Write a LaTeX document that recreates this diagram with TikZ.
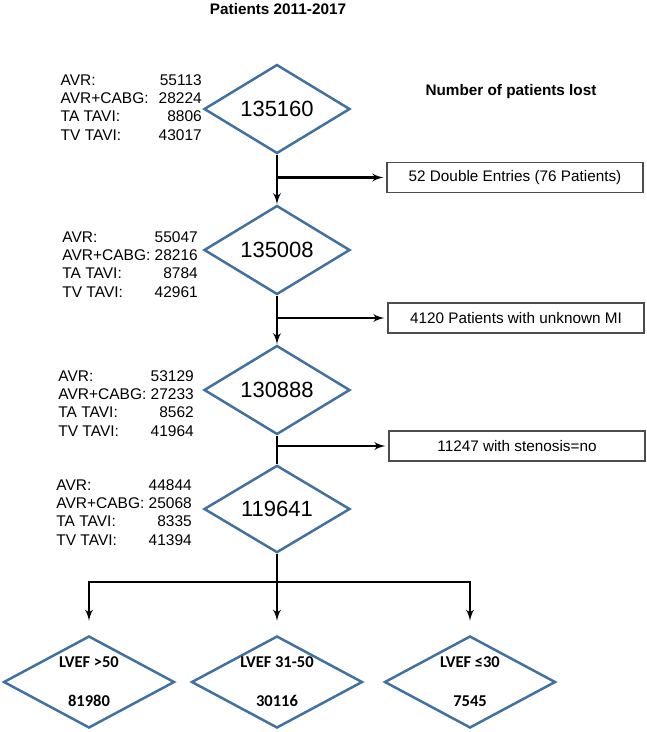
\documentclass[tikz,border=0pt]{standalone}
\usepackage{fontspec}
\setmainfont{Liberation Sans}
\newfontfamily\lvef{Carlito}
\usetikzlibrary{shapes,arrows}
\definecolor{diablue}{RGB}{66,112,160}

\begin{document}
\begin{tikzpicture}[x=1pt, y=-1pt, auto, node distance=141pt, >=latex']
    \tikzstyle{decision} = [draw=diablue, diamond, line width=2.5pt,
    inner sep=0pt, minimum width=146pt, minimum height=86pt,
    font=\fontsize{22}{26}\selectfont]
    \tikzstyle{group} = [draw=diablue, diamond, line width=2.5pt,
    inner sep=0pt, aspect=1.85, minimum width=171pt, minimum height=92pt,
    align=center, font=\lvef\bfseries\fontsize{16.5}{19}\selectfont]
    \tikzstyle{lost} = [draw=black!70, rectangle, line width=1.2pt,
    minimum width=256pt, minimum height=30pt, font=\fontsize{15.3}{18}\selectfont]
    \tikzstyle{counts} = [anchor=east, inner sep=0pt, font=\fontsize{15.5}{18.3}\selectfont]
    \tikzstyle{heading} = [font=\bfseries\fontsize{15.3}{18}\selectfont]
    \tikzstyle{line} = [draw, line width=2.8pt]

    \useasboundingbox (0,0) rectangle (647,732);
    \node [heading] (title) at (278,9) {Patients 2011-2017};
    \node [heading] (losthead) at (511,92) {Number of patients lost};

    \node [decision] (d1) at (277,109) {135160};
    \node [decision, below of=d1] (d2) {135008};
    \node [decision, below of=d2, node distance=140pt] (d3) {130888};
    \node [decision, below of=d3, node distance=119pt] (d4) {119641};

    \node [counts] (s1) at (202,109) {\begin{tabular}{@{}l@{\hspace{10pt}}r@{}}
      AVR: & 55113\\ AVR+CABG: & 28224\\ TA TAVI: & 8806\\ TV TAVI: & 43017\end{tabular}};
    \node [counts] (s2) at (198,266) {\begin{tabular}{@{}l@{\ }r@{}}
      AVR: & 55047\\ AVR+CABG: & 28216\\ TA TAVI: & 8784\\ TV TAVI: & 42961\end{tabular}};
    \node [counts] (s3) at (194,405) {\begin{tabular}{@{}l@{\ }r@{}}
      AVR: & 53129\\ AVR+CABG: & 27233\\ TA TAVI: & 8562\\ TV TAVI: & 41964\end{tabular}};
    \node [counts] (s4) at (192,514) {\begin{tabular}{@{}l@{\ }r@{}}
      AVR: & 44844\\ AVR+CABG: & 25068\\ TA TAVI: & 8335\\ TV TAVI: & 41394\end{tabular}};

    \node [lost] (l1) at (515,177.5) {52 Double Entries (76 Patients)};
    \node [lost] (l2) at (516,318) {4120 Patients with unknown MI};
    \node [lost] (l3) at (517,446) {11247 with stenosis=no};

    \node [group, below of=d4, node distance=173pt] (e2) {LVEF 31-50\\[20pt]30116};
    \node [group, left of=e2, node distance=188pt] (e1) {LVEF >50\\[20pt]81980};
    \node [group, right of=e2, node distance=193pt] (e3) {LVEF ≤30\\[20pt]7545};
    \coordinate [below of=d4, node distance=73pt] (split);

    \draw [line,->] (d1) -- (d2);
    \draw [line,->,shorten >=3pt] (d1.south |- l1) -- (l1);
    \draw [line,->] (d2) -- (d3);
    \draw [line,->,shorten >=3pt] (d2.south |- l2) -- (l2);
    \draw [line] (d3) -- (d4);
    \draw [line,->,shorten >=3pt] (d3.south |- l3) -- (l3);
    \draw [line,->,shorten >=14pt] (d4) -- (e2);
    \draw [line,->,shorten >=14pt] (split) -| (e1);
    \draw [line,->,shorten >=14pt] (split) -| (e3);
\end{tikzpicture}
\end{document}
